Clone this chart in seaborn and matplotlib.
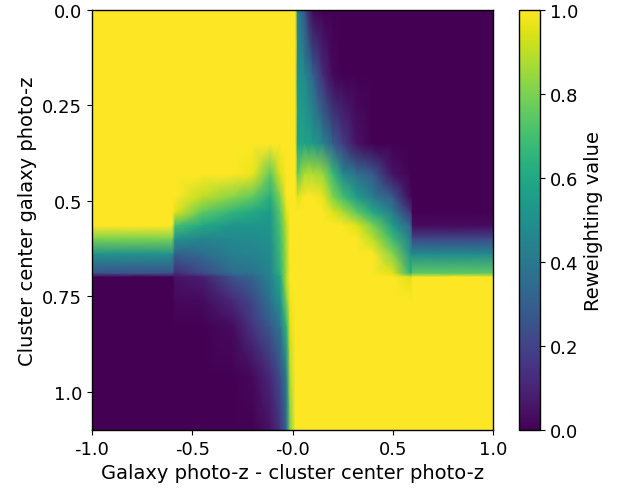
import matplotlib
matplotlib.use("Agg")
import matplotlib.pyplot as plt
import seaborn as sns
import numpy as np

# columns: galaxy photo-z minus cluster center photo-z
dz_nodes = [-1.0, -0.6, -0.585, -0.45, -0.3, -0.2, -0.11, -0.06, -0.03, -0.012,
            0.014, 0.025, 0.06, 0.1, 0.15, 0.2, 0.25, 0.32, 0.4, 0.5, 0.59, 0.6, 1.0]

# rows: cluster center galaxy photo-z
zc_nodes = [0.0, 0.17, 0.35, 0.43, 0.49, 0.53, 0.565, 0.6, 0.64, 0.69, 0.70,
            0.76, 0.83, 0.96, 1.1]

# reweighting value, one row per zc node
weights = [
    [1, 1, 1, 1, 1, 1, 1, 1, 1, 1, 1, 0.45, 0.25, 0.02, 0, 0, 0, 0, 0, 0, 0, 0, 0],
    [1, 1, 1, 1, 1, 1, 1, 1, 1, 1, 1, 0.5, 0.48, 0.32, 0.13, 0.02, 0, 0, 0, 0, 0, 0, 0],
    [1, 1, 1, 1, 1, 1, 1, 1, 1, 1, 1, 0.58, 0.58, 0.55, 0.46, 0.3, 0.18, 0.05, 0, 0, 0, 0, 0],
    [1, 1, 1, 1, 1, 0.97, 0.75, 0.95, 1, 1, 1, 0.75, 0.88, 0.88, 0.85, 0.68, 0.48, 0.37, 0.28, 0.05, 0, 0, 0],
    [1, 1, 1, 0.9, 0.82, 0.75, 0.62, 0.82, 1, 1, 1, 0.95, 1, 1, 0.97, 0.82, 0.7, 0.55, 0.42, 0.27, 0.02, 0, 0],
    [1, 1, 0.95, 0.75, 0.65, 0.6, 0.55, 0.75, 0.95, 1, 1, 1, 1, 1, 1, 0.95, 0.88, 0.75, 0.6, 0.42, 0.15, 0, 0],
    [1, 1, 0.7, 0.6, 0.52, 0.52, 0.52, 0.72, 0.9, 1, 1, 1, 1, 1, 1, 1, 1, 0.95, 0.8, 0.55, 0.32, 0.03, 0.03],
    [0.8, 0.8, 0.5, 0.45, 0.47, 0.48, 0.5, 0.7, 0.88, 1, 1, 1, 1, 1, 1, 1, 1, 1, 0.9, 0.68, 0.42, 0.22, 0.22],
    [0.5, 0.5, 0.3, 0.35, 0.43, 0.45, 0.48, 0.68, 0.87, 1, 1, 1, 1, 1, 1, 1, 1, 1, 1, 0.82, 0.5, 0.48, 0.48],
    [0.25, 0.25, 0.12, 0.22, 0.35, 0.38, 0.45, 0.65, 0.87, 1, 1, 1, 1, 1, 1, 1, 1, 1, 1, 0.95, 0.65, 0.75, 0.75],
    [0, 0, 0.05, 0.08, 0.25, 0.32, 0.45, 0.6, 0.9, 1, 1, 1, 1, 1, 1, 1, 1, 1, 1, 1, 0.95, 1, 1],
    [0, 0, 0.02, 0.03, 0.12, 0.22, 0.38, 0.52, 0.8, 0.98, 1, 1, 1, 1, 1, 1, 1, 1, 1, 1, 1, 1, 1],
    [0, 0, 0, 0, 0.03, 0.15, 0.28, 0.4, 0.65, 0.95, 1, 1, 1, 1, 1, 1, 1, 1, 1, 1, 1, 1, 1],
    [0, 0, 0, 0, 0, 0.02, 0.12, 0.24, 0.42, 0.88, 1, 1, 1, 1, 1, 1, 1, 1, 1, 1, 1, 1, 1],
    [0, 0, 0, 0, 0, 0, 0.05, 0.15, 0.35, 0.8, 1, 1, 1, 1, 1, 1, 1, 1, 1, 1, 1, 1, 1],
]

x_ticks = [-1.0, -0.5, 0.0, 0.5, 1.0]
x_tick_labels = ["-1.0", "-0.5", "-0.0", "0.5", "1.0"]
y_ticks = [0.0, 0.25, 0.5, 0.75, 1.0]
y_tick_labels = ["0.0", "0.25", "0.5", "0.75", "1.0"]
cbar_ticks = [0.0, 0.2, 0.4, 0.6, 0.8, 1.0]

sns.set_style("ticks")
plt.rcParams.update({
    "font.family": ["DejaVu Sans"],
    "font.size": 13,
    "axes.labelsize": 14,
    "axes.edgecolor": "black",
    "axes.labelcolor": "black",
    "text.color": "black",
    "xtick.color": "black",
    "ytick.color": "black",
    "axes.linewidth": 1.0,
})

fig = plt.figure(figsize=(6.17, 4.89), dpi=100)
ax = fig.add_axes([92 / 617, 1 - 431 / 489, 401 / 617, 420 / 489])
cax = fig.add_axes([519 / 617, 1 - 431 / 489, 21 / 617, 420 / 489])

mesh = ax.pcolormesh(np.array(dz_nodes), np.array(zc_nodes), np.array(weights),
                     shading="gouraud", cmap="viridis", vmin=0, vmax=1)
ax.set_xlim(-1, 1)
ax.set_ylim(1.1, 0)
ax.set_xticks(x_ticks)
ax.set_xticklabels(x_tick_labels)
ax.set_yticks(y_ticks)
ax.set_yticklabels(y_tick_labels)
ax.set_xlabel("Galaxy photo-z - cluster center photo-z")
ax.set_ylabel("Cluster center galaxy photo-z")

cb = fig.colorbar(mesh, cax=cax, ticks=cbar_ticks)
cb.set_label("Reweighting value")

fig.savefig("out.png", dpi=100)
